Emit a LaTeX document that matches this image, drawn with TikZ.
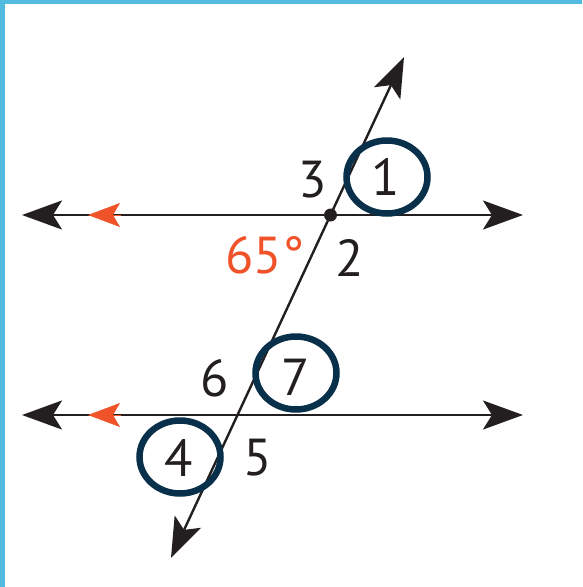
\documentclass[tikz,border=0pt]{standalone}
\usepackage{fontspec}
\setmainfont{PT Sans}
\usetikzlibrary{arrows.meta,shapes.geometric}
\definecolor{navy}{HTML}{08304A}
\definecolor{redor}{HTML}{F0522A}
\definecolor{framec}{HTML}{52BBDF}
\definecolor{ink}{HTML}{231F20}
\begin{document}
\begin{tikzpicture}[x=1pt,y=-1pt,
  lbl/.style={font=\fontsize{52}{52}\selectfont, text=ink, inner sep=0pt},
  ring/.style={draw=navy, line width=6.5pt, ellipse, minimum width=81pt, minimum height=73pt, inner sep=0pt},
  lineB/.style={draw=ink, line width=2.4pt, {Stealth[length=40pt,width=29pt,inset=9pt]}-{Stealth[length=40pt,width=29pt,inset=9pt]}},
  redtip/.style={draw=redor, fill=redor, line width=0.5pt, -{Stealth[length=32pt,width=24pt,inset=7pt]}}]
\useasboundingbox (0,0) rectangle (582,587);
\fill[framec] (0,0) rectangle (582,4);
\fill[framec] (0,0) rectangle (5,587);
% line end points
\coordinate (L1w) at (22,215);
\coordinate (L1e) at (523,215);
\coordinate (L2w) at (22,415);
\coordinate (L2e) at (523,415);
\coordinate (Ttop) at (404,57);
\coordinate (Tbot) at (171,558);
\coordinate (P) at (330.5,215);
\coordinate (R1a) at (121,215);
\coordinate (R1b) at (88,215);
\coordinate (R2a) at (121,415);
\coordinate (R2b) at (88,415);
% lines
\draw[lineB] (L1w) -- (L1e);
\draw[lineB] (L2w) -- (L2e);
\draw[lineB] (Tbot) -- (Ttop);
\draw[redtip] (R1a) -- (R1b);
\draw[redtip] (R2a) -- (R2b);
\fill[ink] (P) circle (6.5pt);
% labels
\node[lbl] (n3) at (313,180) {3};
\node[lbl] (n1) at (386,177) {1};
\node[lbl] (n2) at (350,258) {2};
\node[lbl, text=redor] (n65) at (265,255) {65°};
\node[lbl] (n6) at (215,378) {6};
\node[lbl] (n7) at (296,377) {7};
\node[lbl] (n4) at (179,458) {4};
\node[lbl] (n5) at (258,458) {5};
% rings
\node[ring] (c1) at (387,177) {};
\node[ring] (c7) at (296,373) {};
\node[ring] (c4) at (180,457) {};
\end{tikzpicture}
\end{document}
